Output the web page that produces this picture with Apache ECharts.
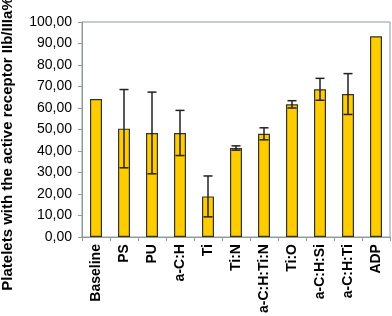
<!DOCTYPE html>
<html><head><meta charset="utf-8">
<script src="https://cdn.jsdelivr.net/npm/echarts@6/dist/echarts.min.js"></script>
<style>html,body{margin:0;padding:0;background:#fff}#c{width:392px;height:316px}</style>
</head><body><div id="c"></div>
<script>
const categories = ['Baseline','PS','PU','a-C:H','Ti','Ti:N','a-C:H:Ti:N','Ti:O','a-C:H:Si','a-C:H:Ti','ADP'];
const means = [64.2, 50.4, 48.4, 48.4, 18.9, 41.4, 48.0, 61.7, 68.7, 66.5, 93.4];
const errors = [null, 18.2, 19.0, 10.5, 9.5, 1.0, 2.8, 1.7, 5.1, 9.5, null];
const yTicks = {min: 0, max: 100, interval: 10};

const chart = echarts.init(document.getElementById('c'), null, {renderer: 'canvas'});
const errData = categories.map((c, i) => errors[i] == null ? null : [i, means[i] - errors[i], means[i] + errors[i]]).filter(d => d);
chart.setOption({
  animation: false,
  grid: {left: 82, top: 22, right: 2, bottom: 77, show: true, borderColor: '#8c9a9a', borderWidth: 1},
  xAxis: {
    type: 'category', data: categories, boundaryGap: true,
    axisLine: {lineStyle: {color: '#8c9a9a', width: 1}},
    axisTick: {show: true, length: 4, lineStyle: {color: '#8c9a9a'}},
    axisLabel: {rotate: 90, interval: 0, color: '#000', fontFamily: 'Liberation Sans, Arial', fontWeight: 'bold', fontSize: 14, margin: 7}
  },
  yAxis: {
    type: 'value', min: yTicks.min, max: yTicks.max, interval: yTicks.interval,
    splitLine: {show: false},
    axisLine: {show: true, lineStyle: {color: '#8c9a9a', width: 1}},
    axisTick: {show: true, length: 4, lineStyle: {color: '#8c9a9a'}},
    axisLabel: {color: '#000', fontFamily: 'Liberation Sans, Arial', fontSize: 14, margin: 10,
      formatter: v => v.toFixed(2).replace('.', ',')}
  },
  graphic: [{
    type: 'text', x: 8, y: 144, rotation: Math.PI / 2,
    style: {text: 'Platelets with the active receptor IIb/IIIa%', fill: '#000', font: 'bold 15px "Liberation Sans", Arial', align: 'center', verticalAlign: 'middle'}
  }],
  series: [{
    type: 'bar', data: means, barWidth: 12,
    itemStyle: {color: '#ffcc00', borderColor: '#333', borderWidth: 1.2}
  }, {
    type: 'custom', data: errData, z: 10,
    renderItem: (params, api) => {
      const x = api.value(0);
      const lo = api.coord([x, api.value(1)]);
      const hi = api.coord([x, api.value(2)]);
      const hw = 4.5;
      const st = {stroke: '#222', lineWidth: 1.5, fill: null};
      return {type: 'group', children: [
        {type: 'line', shape: {x1: lo[0], y1: lo[1], x2: hi[0], y2: hi[1]}, style: st},
        {type: 'line', shape: {x1: hi[0] - hw, y1: hi[1], x2: hi[0] + hw, y2: hi[1]}, style: st},
        {type: 'line', shape: {x1: lo[0] - hw, y1: lo[1], x2: lo[0] + hw, y2: lo[1]}, style: st}
      ]};
    }
  }]
});
</script></body></html>
